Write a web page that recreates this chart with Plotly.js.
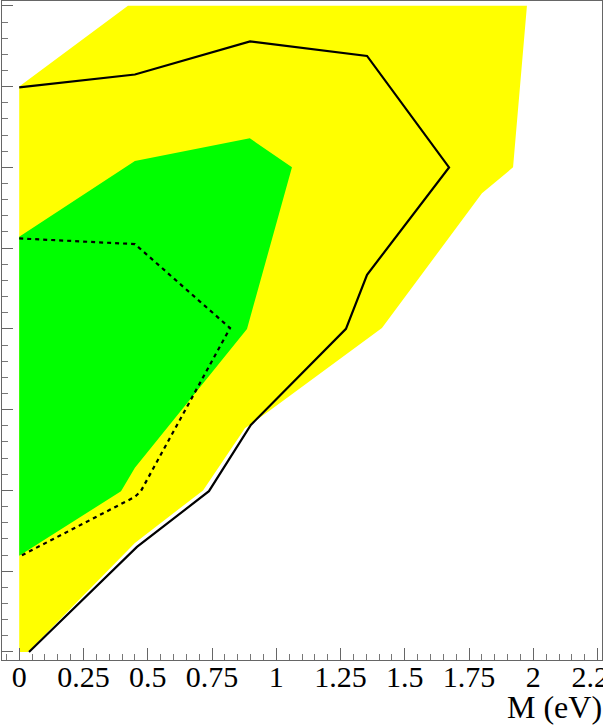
<!DOCTYPE html>
<html>
<head>
<meta charset="utf-8">
<script src="https://cdn.plot.ly/plotly-3.0.1.min.js"></script>
<style>html,body{margin:0;padding:0;background:#fff;}#chart{width:603px;height:726px;}</style>
</head>
<body>
<div id="chart"></div>
<script>
// Outer (yellow) region boundary
var yellowX = [0, 0.423, 1.975, 1.921, 1.80, 1.411, 0.967, 0.878, 0.715, 0.450, 0.034, 0, 0];
var yellowY = [7.0, 8.0, 8.0, 6.0, 5.68, 4.01, 2.97, 2.77, 2.0, 1.35, 0, 0, 7.0];
// Inner (green) region boundary
var greenX = [0, 0.45, 0.897, 1.061, 0.886, 0.45, 0.396, 0, 0];
var greenY = [5.14, 6.08, 6.36, 6.0, 4.0, 2.28, 1.99, 1.19, 5.14];
// Solid contour
var solidX = [0, 0.45, 0.898, 1.353, 1.672, 1.353, 1.271, 0.901, 0.738, 0.458, 0.038];
var solidY = [6.99, 7.15, 7.56, 7.38, 6.0, 4.67, 4.0, 2.81, 1.99, 1.30, 0];
// Dashed contour
var dashX = [0, 0.45, 0.82, 0.473, 0.45, 0];
var dashY = [5.12, 5.05, 4.01, 1.99, 1.92, 1.18];
// Tick labels
var xTickVals = [0, 0.25, 0.5, 0.75, 1, 1.25, 1.5, 1.75, 2, 2.25];
var xTickText = ["0", "0.25", "0.5", "0.75", "1", "1.25", "1.5", "1.75", "2", "2.25"];
var xTitle = "M (eV)";

var traces = [
  {x: yellowX, y: yellowY, type: 'scatter', mode: 'lines', fill: 'toself',
   fillcolor: '#ffff00', line: {width: 0, color: '#ffff00'}, hoverinfo: 'skip'},
  {x: greenX, y: greenY, type: 'scatter', mode: 'lines', fill: 'toself',
   fillcolor: '#00ff00', line: {width: 0, color: '#00ff00'}, hoverinfo: 'skip'},
  {x: solidX, y: solidY, type: 'scatter', mode: 'lines',
   line: {width: 2.2, color: '#000000'}},
  {x: dashX, y: dashY, type: 'scatter', mode: 'lines',
   line: {width: 2.2, color: '#000000', dash: '4px,4px'}}
];

var layout = {
  width: 603, height: 726,
  margin: {l: 2, r: 1, t: 1, b: 66},
  showlegend: false,
  paper_bgcolor: '#ffffff', plot_bgcolor: '#ffffff',
  font: {family: 'Liberation Serif, Times New Roman, serif', color: '#000'},
  xaxis: {
    range: [-0.067, 2.267], showgrid: false, zeroline: false,
    tickmode: 'array', tickvals: xTickVals, ticktext: xTickText,
    ticks: 'inside', ticklen: 12, tickcolor: '#666', tickwidth: 1,
    minor: {dtick: 0.05, tick0: 0, ticks: 'inside', ticklen: 6, tickcolor: '#777', showgrid: false},
    showline: true, linecolor: '#666', linewidth: 1, mirror: true,
    ticklabeloverflow: 'allow', ticklabelstandoff: -10,
    tickfont: {size: 30, family: 'Liberation Serif, serif', color: '#000'}
  },
  yaxis: {
    range: [-0.1, 8.06], showgrid: false, zeroline: false,
    dtick: 1, tick0: 0, showticklabels: false,
    ticks: 'inside', ticklen: 11, tickcolor: '#666', tickwidth: 1,
    minor: {dtick: 0.2, tick0: 0, ticks: 'inside', ticklen: 6, tickcolor: '#777', showgrid: false},
    showline: true, linecolor: '#666', linewidth: 1, mirror: true
  },
  annotations: [{
    text: xTitle, xref: 'paper', yref: 'paper', x: 1, y: 0,
    xanchor: 'right', yanchor: 'bottom', yshift: -66, xshift: 1, borderpad: 0,
    showarrow: false, font: {size: 32, family: 'Liberation Serif, serif', color: '#000'}
  }]
};

Plotly.newPlot('chart', traces, layout, {staticPlot: true, displayModeBar: false});
</script>
</body>
</html>
